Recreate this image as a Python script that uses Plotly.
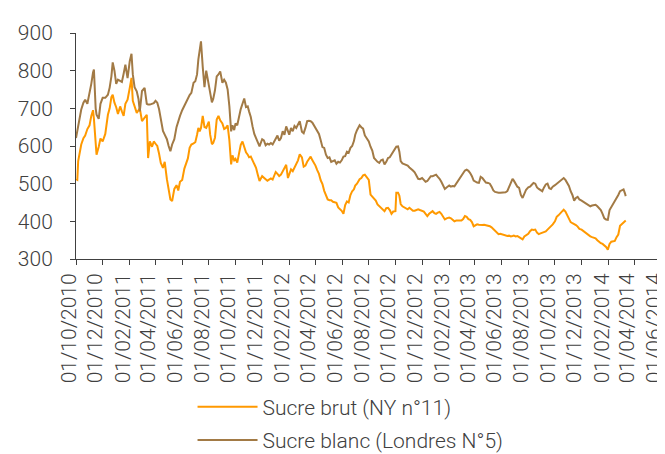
import plotly.graph_objects as go

dates = [
"2010-10-01","2010-10-04","2010-10-06","2010-10-09","2010-10-13","2010-10-18","2010-10-22","2010-10-27",
"2010-11-01","2010-11-05","2010-11-09","2010-11-11","2010-11-15","2010-11-17","2010-11-22","2010-11-26",
"2010-12-01","2010-12-07","2010-12-13","2010-12-17","2010-12-21","2010-12-24","2010-12-28",
"2011-01-01","2011-01-05","2011-01-10","2011-01-14","2011-01-18","2011-01-22","2011-01-27",
"2011-02-01","2011-02-05","2011-02-08","2011-02-12","2011-02-17","2011-02-21","2011-02-24",
"2011-03-01","2011-03-07","2011-03-12","2011-03-15","2011-03-19","2011-03-24","2011-03-28",
"2011-04-01","2011-04-05","2011-04-09","2011-04-13","2011-04-18","2011-04-22","2011-04-27",
"2011-05-01","2011-05-05","2011-05-09","2011-05-14","2011-05-19","2011-05-23","2011-05-27",
"2011-06-01","2011-06-06","2011-06-10","2011-06-14","2011-06-18","2011-06-22","2011-06-27",
"2011-07-01","2011-07-05","2011-07-08","2011-07-11","2011-07-14","2011-07-18","2011-07-22","2011-07-26",
"2011-08-01","2011-08-04","2011-08-08","2011-08-11","2011-08-15","2011-08-19","2011-08-23","2011-08-27",
"2011-09-01","2011-09-05","2011-09-09","2011-09-13","2011-09-17","2011-09-21","2011-09-24","2011-09-28",
"2011-10-01","2011-10-05","2011-10-09","2011-10-13","2011-10-17","2011-10-21","2011-10-25","2011-10-29",
"2011-11-01","2011-11-05","2011-11-09","2011-11-13","2011-11-17","2011-11-21","2011-11-25",
"2011-12-01","2011-12-05","2011-12-09","2011-12-13","2011-12-17","2011-12-21","2011-12-25","2011-12-29",
"2012-01-01","2012-01-05","2012-01-09","2012-01-13","2012-01-17","2012-01-21","2012-01-25","2012-01-29",
"2012-02-01","2012-02-05","2012-02-09","2012-02-13","2012-02-17","2012-02-21","2012-02-25",
"2012-03-01","2012-03-05","2012-03-09","2012-03-13","2012-03-17","2012-03-21","2012-03-25","2012-03-29",
"2012-04-01","2012-04-05","2012-04-09","2012-04-13","2012-04-17","2012-04-21","2012-04-25","2012-04-29",
"2012-05-03","2012-05-07","2012-05-11","2012-05-15","2012-05-19","2012-05-23","2012-05-27","2012-05-31",
"2012-06-04","2012-06-08","2012-06-12","2012-06-16","2012-06-20","2012-06-24","2012-06-28",
"2012-07-01","2012-07-05","2012-07-08","2012-07-11","2012-07-15","2012-07-19","2012-07-23","2012-07-27",
"2012-08-01","2012-08-05","2012-08-09","2012-08-13","2012-08-17","2012-08-21","2012-08-25","2012-08-29",
"2012-09-02","2012-09-06","2012-09-10","2012-09-14","2012-09-18","2012-09-22","2012-09-26",
"2012-10-01","2012-10-03","2012-10-07","2012-10-10","2012-10-13","2012-10-17","2012-10-21","2012-10-25","2012-10-29",
"2012-11-02","2012-11-06","2012-11-10","2012-11-14","2012-11-18","2012-11-22","2012-11-26",
"2012-12-01","2012-12-05","2012-12-09","2012-12-13","2012-12-17","2012-12-21","2012-12-25","2012-12-29",
"2013-01-02","2013-01-06","2013-01-10","2013-01-14","2013-01-18","2013-01-22","2013-01-26",
"2013-02-01","2013-02-05","2013-02-09","2013-02-13","2013-02-17","2013-02-21","2013-02-25",
"2013-03-01","2013-03-05","2013-03-09","2013-03-13","2013-03-17","2013-03-21","2013-03-25","2013-03-29",
"2013-04-02","2013-04-06","2013-04-10","2013-04-14","2013-04-18","2013-04-22","2013-04-26",
"2013-05-01","2013-05-05","2013-05-09","2013-05-13","2013-05-17","2013-05-21","2013-05-25","2013-05-29",
"2013-06-02","2013-06-06","2013-06-10","2013-06-14","2013-06-18","2013-06-22","2013-06-26","2013-06-29",
"2013-07-03","2013-07-07","2013-07-11","2013-07-15","2013-07-19","2013-07-23","2013-07-27",
"2013-08-01","2013-08-05","2013-08-09","2013-08-13","2013-08-17","2013-08-21","2013-08-25","2013-08-29",
"2013-09-02","2013-09-06","2013-09-10","2013-09-14","2013-09-18","2013-09-22","2013-09-26",
"2013-10-01","2013-10-05","2013-10-09","2013-10-13","2013-10-17","2013-10-21","2013-10-25","2013-10-29",
"2013-11-02","2013-11-06","2013-11-10","2013-11-14","2013-11-18","2013-11-22","2013-11-26",
"2013-12-01","2013-12-05","2013-12-09","2013-12-13","2013-12-17","2013-12-21","2013-12-25","2013-12-29",
"2014-01-02","2014-01-06","2014-01-10","2014-01-14","2014-01-18","2014-01-22","2014-01-26","2014-01-30",
"2014-02-03","2014-02-07","2014-02-11","2014-02-15","2014-02-19","2014-02-23","2014-02-27",
"2014-03-03","2014-03-07","2014-03-10","2014-03-12",
]

sucre_blanc = [
621,640,655,675,697,715,723,712,
738,765,795,803,700,683,672,712,
728,728,736,755,785,822,800,
765,776,772,770,792,816,780,
825,845,790,756,745,725,692,
746,754,712,710,710,712,714,
720,715,698,670,640,630,618,
600,586,604,618,650,668,680,
695,708,716,727,735,741,768,
772,790,830,860,878,810,756,800,
760,736,716,725,748,785,790,798,
768,776,768,750,705,639,655,642,
660,655,678,698,712,726,703,705,
692,677,652,632,621,608,599,
618,615,602,606,604,608,604,612,
619,628,614,621,639,630,652,638,
630,648,639,653,648,657,666,
638,634,648,666,667,666,662,654,
650,641,632,615,597,595,577,568,
570,558,560,562,553,558,556,562,
572,573,585,582,595,600,613,
630,642,648,655,650,646,628,620,
612,598,588,568,562,558,555,562,
564,551,558,568,570,577,585,
595,598,599,585,560,554,552,551,548,
543,540,535,530,520,513,512,
515,510,505,507,515,520,520,522,
524,518,513,505,495,486,490,
495,492,494,493,500,505,512,
520,527,535,537,534,528,520,508,
505,503,502,518,515,507,503,
502,500,492,482,478,476,476,476,
476,476,477,480,492,502,513,508,
498,492,489,470,462,474,484,
490,492,497,502,500,490,486,484,
480,490,498,500,488,486,492,
496,500,505,508,512,515,510,502,
494,480,470,455,462,465,458,
455,452,449,446,445,440,442,444,
444,440,436,430,420,408,405,404,
430,438,445,452,463,470,480,
482,485,475,467,
]

sucre_brut = [
512,510,560,585,604,621,628,645,
655,680,695,672,600,577,598,620,
612,632,683,700,730,736,715,
703,685,705,692,680,712,723,
754,781,720,703,688,695,700,
666,677,683,568,612,598,612,
606,600,580,555,542,558,512,
480,458,454,486,496,482,505,
510,540,555,567,595,604,607,
610,630,648,639,648,680,650,648,
665,630,605,608,622,670,680,668,
660,645,648,655,615,551,575,562,
566,556,580,603,612,598,583,577,
570,572,562,552,542,524,507,
520,517,512,508,510,514,511,523,
531,526,520,524,533,542,550,515,
524,538,533,542,551,562,578,
570,545,548,558,567,572,562,555,
548,536,526,509,499,481,471,458,
456,456,452,451,449,437,432,428,
420,443,453,450,470,480,485,
495,500,505,512,515,522,524,518,
510,471,466,462,455,445,440,436,
432,427,435,436,430,420,426,
427,476,476,468,446,440,437,436,432,
436,432,428,428,430,432,430,
428,426,420,414,420,423,427,422,
420,423,425,420,412,405,408,
410,408,404,400,402,402,400,
402,406,414,412,406,404,398,387,
390,392,391,390,390,391,390,
390,387,384,380,376,370,366,367,
365,364,362,361,362,360,361,362,
360,361,358,354,352,360,364,
367,374,378,377,378,370,366,368,
370,371,373,378,382,386,392,
400,412,416,421,425,431,426,418,
410,398,395,393,390,386,380,
378,374,370,367,364,360,358,357,
355,350,345,342,340,336,332,325,
340,346,347,348,358,365,388,
392,398,400,402,
]

tick_dates = [
"2010-10-01","2010-12-01","2011-02-01","2011-04-01","2011-06-01","2011-08-01",
"2011-10-01","2011-12-01","2012-02-01","2012-04-01","2012-06-01","2012-08-01",
"2012-10-01","2012-12-01","2013-02-01","2013-04-01","2013-06-01","2013-08-01",
"2013-10-01","2013-12-01","2014-02-01","2014-04-01","2014-06-01",
]
tick_labels = [d[8:10] + "/" + d[5:7] + "/" + d[0:4] for d in tick_dates]

series_names = ["Sucre brut (NY n°11)", "Sucre blanc (Londres N°5)"]
series_colors = ["#FF9900", "#A27A45"]

fig = go.Figure()
for i, (name, vals, col) in enumerate(zip(series_names, [sucre_brut, sucre_blanc], series_colors)):
    fig.add_trace(go.Scatter(x=dates, y=vals, mode="lines", name=name, legendgroup=f"g{i}",
                             line=dict(color=col, width=2)))

font_family = "Roboto"
fig.update_layout(
    width=665, height=454,
    margin=dict(l=68, r=11, t=25, b=203, autoexpand=False),
    plot_bgcolor="white", paper_bgcolor="white",
    font=dict(family=font_family, size=21, color="#404040", weight=300),
    showlegend=True,
    legend=dict(xref="container", yref="container", x=0.2775, y=0.166,
                xanchor="left", yanchor="top", orientation="v", tracegroupgap=3,
                itemwidth=60, font=dict(size=21, family=font_family, color="#404040", weight=300),
                bgcolor="rgba(0,0,0,0)"),
)
fig.update_xaxes(type="date", range=["2010-10-01", "2014-06-03"], tickmode="array",
                 tickvals=tick_dates, ticktext=tick_labels, tickangle=-90, ticks="outside", ticklen=5,
                 ticklabeloverflow="allow", ticklabelshift=-7,
                 tickcolor="#404040", showline=True, linecolor="#404040", linewidth=1,
                 showgrid=False, zeroline=False, tickfont=dict(size=21))
fig.update_yaxes(range=[300, 900], dtick=100, ticks="outside", ticklen=5, tickcolor="#404040",
                 showline=True, linecolor="#404040", linewidth=1, showgrid=False, zeroline=False,
                 ticklabelstandoff=13, tickfont=dict(size=21))

fig.write_html("out.html")
